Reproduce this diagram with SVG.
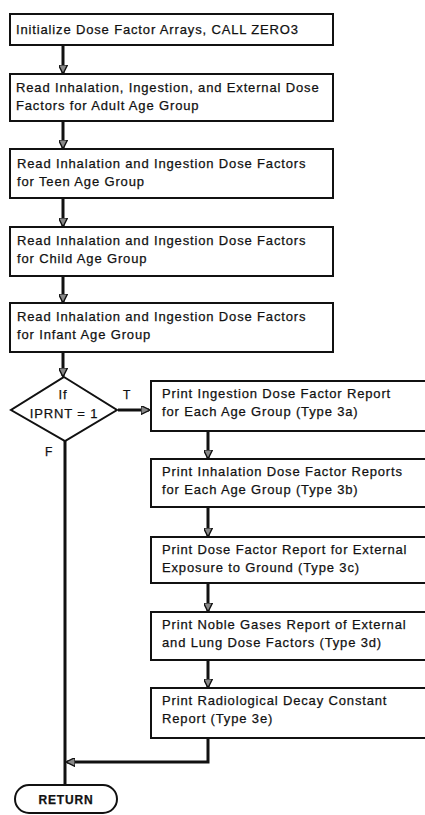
<svg xmlns="http://www.w3.org/2000/svg" width="425" height="815" viewBox="0 0 425 815">
  <defs>
    <marker id="arrow" viewBox="0 0 10 10" refX="9" refY="5" markerWidth="3" markerHeight="3" orient="auto" markerUnits="strokeWidth">
      <path d="M0,0 L10,5 L0,10 Z" fill="#888" stroke="#111" stroke-width="1.5"/>
    </marker>
    <style>
      .box { fill: #fff; stroke: #111; stroke-width: 2; }
      .lbl { font-family: "Liberation Sans", Arial, sans-serif; font-size: 13px; letter-spacing: 0.85px; fill: #111; stroke: #111; stroke-width: 0.25px; }
      .edge { fill: none; stroke: #111; stroke-width: 3; }
      .edge-head { fill: none; stroke: #111; stroke-width: 3; marker-end: url(#arrow); }
      .tag { font-family: "Liberation Sans", Arial, sans-serif; font-size: 12px; fill: #111; stroke: #111; stroke-width: 0.25px; }
    </style>
  </defs>
  <rect width="425" height="815" fill="#fff"/>

  <!-- connectors -->
  <g id="connectors">
    <line class="edge-head" x1="63" y1="46" x2="63" y2="73"/>
    <line class="edge-head" x1="63" y1="122" x2="63" y2="148"/>
    <line class="edge-head" x1="63" y1="199" x2="63" y2="226"/>
    <line class="edge-head" x1="63" y1="277" x2="63" y2="302"/>
    <line class="edge-head" x1="63" y1="353" x2="63" y2="376"/>
    <line class="edge-head" x1="118" y1="410" x2="149" y2="410"/>
    <line class="edge-head" x1="208" y1="432" x2="208" y2="458"/>
    <line class="edge-head" x1="208" y1="508" x2="208" y2="536"/>
    <line class="edge-head" x1="208" y1="584" x2="208" y2="611"/>
    <line class="edge-head" x1="208" y1="661" x2="208" y2="687"/>
    <polyline class="edge-head" points="208,739 208,762 67,762"/>
    <line class="edge" x1="65" y1="441" x2="65" y2="785"/>
    <text class="tag" x="123" y="399">T</text>
    <text class="tag" x="45" y="456">F</text>
  </g>

  <g id="init">
    <rect class="box" x="10" y="14" width="323" height="31"/>
    <text class="lbl" x="16" y="34">Initialize Dose Factor Arrays, CALL ZERO3</text>
  </g>
  <g id="adult">
    <rect class="box" x="10" y="74" width="323" height="47"/>
    <text class="lbl" x="16" y="92">Read Inhalation, Ingestion, and External Dose</text>
    <text class="lbl" x="16" y="110">Factors for Adult Age Group</text>
  </g>
  <g id="teen">
    <rect class="box" x="10" y="149" width="323" height="49"/>
    <text class="lbl" x="17" y="168">Read Inhalation and Ingestion Dose Factors</text>
    <text class="lbl" x="17" y="186">for Teen Age Group</text>
  </g>
  <g id="child">
    <rect class="box" x="10" y="227" width="323" height="49"/>
    <text class="lbl" x="17" y="245">Read Inhalation and Ingestion Dose Factors</text>
    <text class="lbl" x="17" y="263">for Child Age Group</text>
  </g>
  <g id="infant">
    <rect class="box" x="10" y="303" width="323" height="49"/>
    <text class="lbl" x="17" y="321">Read Inhalation and Ingestion Dose Factors</text>
    <text class="lbl" x="17" y="339">for Infant Age Group</text>
  </g>
  <g id="decision">
    <polygon points="64,377 117,410 65,441 11,410" fill="#fff" stroke="#111" stroke-width="2"/>
    <text class="lbl" x="63" y="399" text-anchor="middle">If</text>
    <text class="lbl" x="64" y="418" text-anchor="middle">IPRNT = 1</text>
  </g>
  <g id="report3a">
    <rect class="box" x="151" y="381" width="290" height="50"/>
    <text class="lbl" x="162" y="398">Print Ingestion Dose Factor Report</text>
    <text class="lbl" x="162" y="416">for Each Age Group (Type 3a)</text>
  </g>
  <g id="report3b">
    <rect class="box" x="151" y="459" width="290" height="48"/>
    <text class="lbl" x="162" y="476">Print Inhalation Dose Factor Reports</text>
    <text class="lbl" x="162" y="494">for Each Age Group (Type 3b)</text>
  </g>
  <g id="report3c">
    <rect class="box" x="151" y="537" width="290" height="46"/>
    <text class="lbl" x="162" y="554">Print Dose Factor Report for External</text>
    <text class="lbl" x="162" y="572">Exposure to Ground (Type 3c)</text>
  </g>
  <g id="report3d">
    <rect class="box" x="151" y="612" width="290" height="48"/>
    <text class="lbl" x="162" y="629">Print Noble Gases Report of External</text>
    <text class="lbl" x="162" y="647">and Lung Dose Factors (Type 3d)</text>
  </g>
  <g id="report3e">
    <rect class="box" x="151" y="688" width="290" height="50"/>
    <text class="lbl" x="162" y="705">Print Radiological Decay Constant</text>
    <text class="lbl" x="162" y="723">Report (Type 3e)</text>
  </g>
  <g id="return">
    <rect x="15" y="785" width="102" height="28" rx="14" ry="14" fill="#fff" stroke="#111" stroke-width="2"/>
    <text class="lbl" x="66" y="804" text-anchor="middle" font-weight="bold" style="font-size:12px">RETURN</text>
  </g>
</svg>
